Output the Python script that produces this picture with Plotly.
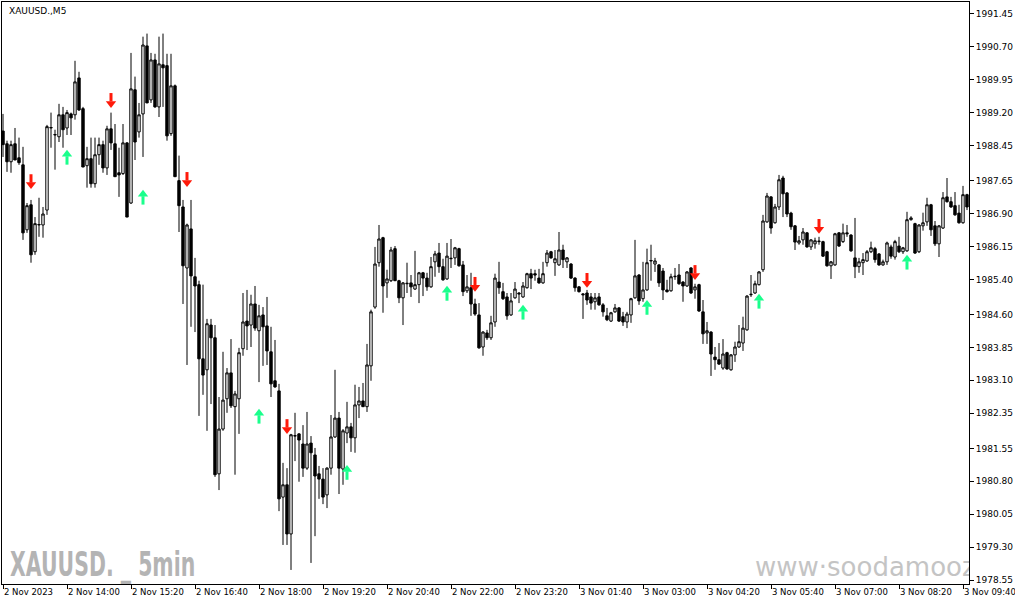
import plotly.graph_objects as go

opens = [
1988.78, 1988.49, 1988.08, 1988.49, 1988.17, 1988.01, 1986.53, 1987.10, 1986.03, 1986.64,
1986.64, 1986.98, 1988.85, 1988.69, 1988.65, 1989.15, 1988.85, 1989.17, 1989.15, 1989.99,
1989.29, 1987.99, 1988.15, 1987.58, 1988.24, 1988.47, 1987.94, 1988.83, 1988.49, 1987.83,
1987.81, 1988.51, 1987.14, 1989.72, 1988.76, 1989.17, 1990.72, 1989.49, 1990.40, 1989.33,
1990.29, 1990.27, 1988.72, 1989.81, 1987.65, 1987.05, 1985.66, 1986.55, 1985.46, 1985.28,
1983.59, 1983.34, 1984.36, 1984.07, 1980.97, 1981.99, 1982.68, 1983.27, 1982.50, 1982.68,
1983.82, 1984.45, 1984.36, 1984.84, 1984.23, 1984.59, 1984.34, 1983.75, 1983.09, 1982.86,
1980.44, 1980.72, 1979.60, 1981.83, 1981.88, 1981.65, 1981.10, 1981.67, 1981.40, 1980.97,
1980.85, 1980.49, 1981.10, 1981.81, 1982.24, 1981.08, 1981.90, 1982.04, 1981.79, 1982.54,
1982.63, 1982.50, 1983.43, 1984.77, 1985.78, 1986.35, 1985.32, 1985.37, 1986.10, 1985.37,
1984.98, 1985.30, 1985.32, 1985.18, 1985.28, 1985.55, 1985.43, 1985.23, 1985.80, 1986.00,
1985.69, 1985.41, 1985.87, 1985.89, 1986.10, 1985.73, 1985.14, 1985.21, 1984.84, 1984.59,
1983.86, 1984.18, 1984.07, 1984.43, 1985.34, 1985.12, 1985.00, 1984.59, 1984.98, 1985.09,
1985.00, 1985.21, 1985.53, 1985.53, 1985.43, 1985.32, 1985.78, 1986.03, 1985.78, 1985.73,
1986.07, 1985.80, 1985.75, 1985.43, 1985.23, 1985.07, 1985.09, 1985.00, 1984.89, 1985.00,
1984.82, 1984.57, 1984.45, 1984.66, 1984.75, 1984.55, 1984.43, 1984.59, 1984.98, 1985.50,
1984.96, 1985.16, 1985.82, 1985.75, 1985.73, 1985.59, 1985.16, 1985.14, 1985.46, 1985.50,
1985.34, 1985.25, 1985.66, 1985.16, 1985.28, 1984.66, 1984.18, 1984.20, 1983.63, 1983.57,
1983.38, 1983.73, 1983.34, 1983.68, 1983.86, 1983.95, 1984.25, 1985.05, 1985.09, 1985.28,
1985.62, 1986.71, 1987.28, 1986.69, 1987.05, 1987.71, 1987.37, 1986.91, 1986.62, 1986.23,
1986.30, 1986.46, 1986.14, 1986.21, 1986.26, 1986.26, 1986.03, 1985.71, 1985.73, 1986.46,
1986.26, 1986.46, 1986.41, 1985.89, 1985.69, 1985.78, 1985.82, 1986.03, 1986.10, 1985.98,
1985.73, 1985.80, 1986.14, 1985.91, 1986.16, 1986.03, 1986.05, 1986.76, 1986.67, 1986.03,
1986.62, 1986.71, 1987.10, 1986.62, 1986.21, 1986.57, 1987.28, 1987.17, 1987.08, 1986.91,
1986.69, 1987.33]

highs = [
1989.17, 1988.56, 1988.56, 1988.85, 1988.63, 1988.42, 1987.14, 1987.21, 1986.82, 1987.26,
1987.05, 1988.92, 1989.20, 1988.81, 1989.40, 1989.33, 1989.26, 1989.20, 1990.38, 1990.13,
1989.33, 1988.42, 1988.63, 1988.63, 1988.63, 1988.56, 1988.90, 1989.20, 1988.94, 1988.40,
1988.94, 1988.53, 1990.56, 1990.02, 1989.42, 1990.93, 1991.00, 1990.56, 1990.54, 1990.93,
1991.00, 1990.54, 1990.54, 1989.84, 1988.22, 1987.21, 1986.67, 1987.21, 1985.89, 1985.37,
1985.28, 1984.50, 1984.50, 1984.36, 1982.72, 1983.75, 1983.38, 1984.04, 1982.86, 1983.84,
1985.09, 1985.16, 1985.05, 1985.25, 1984.82, 1984.77, 1985.00, 1984.32, 1984.02, 1983.02,
1981.22, 1981.10, 1981.88, 1982.36, 1981.90, 1982.08, 1982.38, 1981.83, 1981.56, 1981.15,
1981.10, 1981.12, 1982.31, 1983.34, 1982.38, 1981.99, 1982.61, 1982.13, 1983.00, 1982.95,
1983.04, 1983.93, 1984.71, 1986.14, 1986.64, 1986.37, 1985.62, 1986.14, 1986.16, 1985.39,
1985.34, 1985.78, 1985.50, 1986.05, 1985.57, 1985.57, 1985.55, 1985.91, 1986.05, 1986.23,
1985.87, 1986.23, 1986.32, 1986.14, 1986.12, 1985.82, 1985.50, 1985.55, 1984.96, 1984.86,
1984.22, 1984.25, 1984.57, 1985.53, 1985.80, 1985.32, 1985.09, 1985.09, 1985.34, 1985.11,
1985.34, 1985.55, 1985.64, 1985.62, 1985.64, 1985.80, 1986.07, 1986.05, 1986.07, 1986.48,
1986.19, 1985.91, 1985.77, 1985.45, 1985.25, 1985.09, 1985.16, 1985.09, 1985.09, 1985.09,
1984.86, 1984.75, 1984.66, 1984.84, 1984.77, 1984.66, 1984.66, 1984.98, 1986.30, 1985.52,
1985.80, 1986.10, 1986.19, 1985.89, 1985.75, 1985.66, 1985.39, 1985.53, 1985.66, 1985.75,
1985.36, 1985.59, 1985.68, 1985.30, 1985.30, 1984.93, 1984.43, 1984.22, 1983.86, 1983.95,
1984.04, 1983.75, 1983.70, 1983.98, 1984.36, 1984.55, 1985.04, 1985.50, 1985.37, 1985.59,
1986.87, 1987.37, 1987.30, 1987.12, 1987.78, 1987.76, 1987.39, 1986.94, 1986.64, 1986.39,
1986.57, 1986.48, 1986.32, 1986.35, 1986.37, 1986.28, 1986.05, 1985.82, 1986.46, 1986.48,
1986.67, 1986.64, 1986.43, 1986.80, 1985.89, 1986.00, 1986.07, 1986.26, 1986.14, 1986.00,
1985.85, 1986.26, 1986.19, 1986.30, 1986.37, 1986.14, 1986.94, 1986.84, 1986.69, 1986.66,
1986.92, 1987.26, 1987.12, 1986.73, 1986.64, 1987.39, 1987.71, 1987.28, 1987.39, 1987.10,
1987.53, 1987.35]

lows = [
1988.19, 1987.85, 1987.83, 1988.12, 1988.01, 1986.30, 1986.46, 1985.78, 1985.96, 1986.37,
1986.35, 1986.87, 1988.40, 1987.90, 1988.53, 1988.40, 1988.69, 1988.69, 1989.04, 1989.24,
1987.96, 1987.49, 1987.49, 1987.49, 1988.01, 1987.83, 1987.78, 1988.35, 1987.74, 1987.28,
1987.78, 1986.82, 1987.12, 1988.12, 1988.63, 1988.19, 1989.42, 1989.42, 1989.31, 1989.10,
1989.33, 1988.56, 1988.67, 1987.74, 1986.48, 1984.84, 1983.45, 1984.32, 1984.20, 1982.29,
1982.77, 1981.95, 1982.56, 1980.90, 1980.60, 1981.95, 1982.36, 1982.47, 1980.95, 1981.88,
1983.66, 1983.79, 1983.86, 1984.23, 1983.06, 1983.43, 1983.45, 1982.72, 1982.93, 1980.12,
1979.35, 1979.35, 1978.78, 1981.26, 1980.79, 1980.90, 1981.06, 1978.94, 1979.55, 1980.40,
1980.28, 1980.19, 1980.95, 1981.79, 1980.51, 1980.72, 1981.67, 1981.47, 1981.45, 1982.24,
1982.50, 1982.38, 1983.09, 1984.73, 1985.69, 1984.64, 1984.98, 1985.34, 1985.37, 1984.86,
1984.36, 1985.09, 1985.00, 1985.16, 1984.86, 1985.02, 1985.14, 1985.21, 1985.46, 1985.55,
1985.37, 1985.39, 1985.66, 1985.73, 1985.69, 1985.02, 1985.09, 1984.57, 1984.57, 1983.82,
1983.66, 1984.02, 1984.02, 1984.32, 1985.07, 1984.93, 1984.48, 1984.57, 1984.96, 1984.86,
1984.98, 1985.19, 1985.18, 1985.37, 1985.30, 1985.30, 1985.69, 1985.87, 1985.48, 1985.71,
1985.66, 1985.66, 1985.41, 1985.12, 1985.10, 1984.50, 1984.82, 1984.71, 1984.71, 1984.80,
1984.55, 1984.45, 1984.43, 1984.64, 1984.43, 1984.34, 1984.29, 1984.41, 1984.96, 1984.82,
1984.89, 1985.14, 1985.37, 1985.57, 1985.23, 1984.93, 1985.10, 1985.12, 1985.39, 1985.28,
1984.89, 1985.23, 1985.07, 1984.96, 1984.66, 1983.93, 1983.93, 1983.20, 1983.34, 1983.45,
1983.34, 1983.34, 1983.32, 1983.52, 1983.84, 1983.77, 1984.23, 1985.00, 1985.07, 1985.26,
1985.57, 1986.69, 1986.44, 1986.67, 1986.98, 1986.82, 1986.82, 1986.53, 1986.07, 1986.19,
1986.19, 1986.12, 1986.07, 1986.10, 1986.19, 1985.91, 1985.69, 1985.41, 1985.71, 1986.14,
1986.23, 1986.37, 1986.03, 1985.43, 1985.55, 1985.50, 1985.80, 1986.00, 1985.78, 1985.71,
1985.71, 1985.73, 1985.87, 1985.85, 1986.00, 1985.98, 1986.03, 1986.74, 1985.98, 1986.00,
1986.51, 1986.62, 1986.39, 1986.16, 1985.91, 1986.55, 1987.15, 1987.03, 1986.85, 1986.67,
1986.67, 1986.98]

closes = [
1988.47, 1988.08, 1988.47, 1988.12, 1988.06, 1986.46, 1987.08, 1985.96, 1986.67, 1986.65,
1986.89, 1988.88, 1988.86, 1988.70, 1989.15, 1988.81, 1989.20, 1989.08, 1989.90, 1989.26,
1987.96, 1988.15, 1987.58, 1988.24, 1988.47, 1987.94, 1988.83, 1988.51, 1987.74, 1987.78,
1988.51, 1986.82, 1989.74, 1988.53, 1989.15, 1990.74, 1989.42, 1990.40, 1989.33, 1990.31,
1990.22, 1988.67, 1989.81, 1987.74, 1987.08, 1985.71, 1986.64, 1985.48, 1985.25, 1983.59,
1983.22, 1984.39, 1984.07, 1980.95, 1981.99, 1982.65, 1983.27, 1982.52, 1982.79, 1983.73,
1984.43, 1984.34, 1984.84, 1984.29, 1984.57, 1984.32, 1983.77, 1983.02, 1982.95, 1980.40,
1980.72, 1979.60, 1981.86, 1981.84, 1981.74, 1981.10, 1981.65, 1981.45, 1980.92, 1980.85,
1980.44, 1981.10, 1981.81, 1982.24, 1981.10, 1981.95, 1982.04, 1981.79, 1982.54, 1982.63,
1982.50, 1983.45, 1984.66, 1985.75, 1986.32, 1985.25, 1985.41, 1986.07, 1985.37, 1984.98,
1985.32, 1985.31, 1985.23, 1985.28, 1985.55, 1985.43, 1985.23, 1985.69, 1985.98, 1985.69,
1985.39, 1985.93, 1985.88, 1986.12, 1985.71, 1985.12, 1985.23, 1984.84, 1984.61, 1983.84,
1984.20, 1984.07, 1984.41, 1985.43, 1985.21, 1984.96, 1984.57, 1984.91, 1985.18, 1985.07,
1985.25, 1985.53, 1985.43, 1985.50, 1985.32, 1985.53, 1986.00, 1985.89, 1985.87, 1986.07,
1985.85, 1985.89, 1985.43, 1985.21, 1985.12, 1985.05, 1984.93, 1984.86, 1984.98, 1984.82,
1984.66, 1984.48, 1984.64, 1984.75, 1984.45, 1984.43, 1984.61, 1984.96, 1985.48, 1984.91,
1985.16, 1985.78, 1985.83, 1985.82, 1985.32, 1985.16, 1985.12, 1985.46, 1985.47, 1985.30,
1985.25, 1985.57, 1985.09, 1985.23, 1984.68, 1984.16, 1984.23, 1983.70, 1983.57, 1983.47,
1983.70, 1983.36, 1983.68, 1983.86, 1983.98, 1984.29, 1985.02, 1985.06, 1985.30, 1985.57,
1986.73, 1987.30, 1986.57, 1987.05, 1987.67, 1987.35, 1986.89, 1986.60, 1986.25, 1986.28,
1986.48, 1986.14, 1986.30, 1986.28, 1986.27, 1985.93, 1985.71, 1985.80, 1986.44, 1986.16,
1986.46, 1986.44, 1986.05, 1985.69, 1985.80, 1985.85, 1986.03, 1986.12, 1985.85, 1985.73,
1985.80, 1986.23, 1985.93, 1986.26, 1986.03, 1986.12, 1986.76, 1986.80, 1986.00, 1986.64,
1986.69, 1987.10, 1986.53, 1986.21, 1986.62, 1987.26, 1987.17, 1987.05, 1986.87, 1986.69,
1987.33, 1987.05]

sell_bars = [7, 27, 46, 71, 118, 146, 173, 204]
sell_prices = [1987.62, 1989.47, 1987.67, 1982.04, 1985.28, 1985.37, 1985.55, 1986.60]
buy_bars = [16, 35, 64, 86, 111, 130, 161, 189, 226]
buy_prices = [1988.19, 1987.28, 1982.29, 1981.01, 1985.09, 1984.66, 1984.77, 1984.91, 1985.80]

price_ticks = [1991.45, 1990.70, 1989.95, 1989.20, 1988.45, 1987.65, 1986.90, 1986.15,
               1985.40, 1984.60, 1983.85, 1983.10, 1982.35, 1981.55, 1980.80, 1980.05,
               1979.30, 1978.55]
time_tick_bars = [0, 16, 32, 48, 64, 80, 96, 112, 128, 144, 160, 176, 192, 208, 224, 240]
time_tick_labels = ["2 Nov 2023", "2 Nov 14:00", "2 Nov 15:20", "2 Nov 16:40", "2 Nov 18:00",
                    "2 Nov 19:20", "2 Nov 20:40", "2 Nov 22:00", "2 Nov 23:20", "3 Nov 01:40",
                    "3 Nov 03:00", "3 Nov 04:20", "3 Nov 05:40", "3 Nov 07:00", "3 Nov 08:20",
                    "3 Nov 09:40"]

bars = list(range(len(closes)))

RED = "#ff1a0a"
GREEN = "#1aff8c"
HEAD = 0.06   # arrow head offset from signal level (price units)
SHAFT = 0.08  # arrow shaft offset from signal level (price units)

fig = go.Figure()
fig.add_trace(go.Candlestick(
    x=bars, open=opens, high=highs, low=lows, close=closes,
    increasing=dict(line=dict(color="black", width=1), fillcolor="white"),
    decreasing=dict(line=dict(color="black", width=1), fillcolor="black"),
    whiskerwidth=0, showlegend=False, hoverinfo="skip"))

# sell arrows (shaft + head)
fig.add_trace(go.Scatter(
    x=sell_bars, y=[p + SHAFT for p in sell_prices], mode="markers",
    marker=dict(symbol="line-ns", size=6, line=dict(width=3, color=RED)),
    showlegend=False, hoverinfo="skip"))
fig.add_trace(go.Scatter(
    x=sell_bars, y=[p - HEAD for p in sell_prices], mode="markers",
    marker=dict(symbol="triangle-down", size=9, color=RED, line=dict(width=0)),
    showlegend=False, hoverinfo="skip"))
# buy arrows (shaft + head)
fig.add_trace(go.Scatter(
    x=buy_bars, y=[p - SHAFT for p in buy_prices], mode="markers",
    marker=dict(symbol="line-ns", size=6, line=dict(width=3, color=GREEN)),
    showlegend=False, hoverinfo="skip"))
fig.add_trace(go.Scatter(
    x=buy_bars, y=[p + HEAD for p in buy_prices], mode="markers",
    marker=dict(symbol="triangle-up", size=9, color=GREEN, line=dict(width=0)),
    showlegend=False, hoverinfo="skip"))

# watermark clipped by the price scale
fig.add_trace(go.Scatter(
    x=[188], y=[1978.79], mode="text", text=["www·soodamooz.com"],
    textfont=dict(family="DejaVu Sans", size=26, color="#c4c4c4"),
    textposition="middle right", cliponaxis=True, showlegend=False, hoverinfo="skip"))

fig.add_annotation(text="XAUUSD. _ 5min", xref="paper", yref="paper", x=0.006, y=-0.004,
                   xanchor="left", yanchor="bottom", showarrow=False,
                   font=dict(family="DejaVu Sans", size=33, color="#b4b4b4", weight="bold"))
fig.add_annotation(text="XAUUSD.,M5", xref="paper", yref="paper", x=0.005, y=0.985,
                   xanchor="left", yanchor="middle", showarrow=False,
                   font=dict(family="DejaVu Sans", size=9, color="black"))

fig.update_layout(
    width=1015, height=605,
    margin=dict(l=2, r=46, t=2, b=21, autoexpand=False),
    paper_bgcolor="white", plot_bgcolor="white",
    boxgap=0.15,
    xaxis=dict(range=[-0.25, 241.5], tickmode="array", tickvals=time_tick_bars,
               ticktext=time_tick_labels, ticks="outside", ticklen=4, tickcolor="black",
               ticklabelposition="outside right", ticklabeloverflow="allow",
               tickangle=0, automargin=False,
               showline=True, linecolor="black", linewidth=1, mirror=True,
               showgrid=False, zeroline=False, rangeslider=dict(visible=False),
               tickfont=dict(family="DejaVu Sans", size=8.5, color="black")),
    yaxis=dict(range=[1978.46, 1991.72], side="right", tickmode="array",
               tickvals=price_ticks, ticktext=[f"{v:.2f}" for v in price_ticks],
               ticks="outside", ticklen=4, tickcolor="black", automargin=False,
               showline=True, linecolor="black", linewidth=1, mirror=True,
               showgrid=False, zeroline=False,
               tickfont=dict(family="DejaVu Sans", size=9, color="black")),
)

post_js = """
document.body.style.margin = '0';
document.body.style.padding = '0';
var narrow = function() {
  document.querySelectorAll('.annotation-text').forEach(function(t) {
    if (t.textContent.indexOf('5min') >= 0) {
      t.removeAttribute('transform');
      var bb = t.getBBox();
      var x0 = bb.x;
      t.setAttribute('transform', 'translate(' + x0 + ',0) scale(0.62,1) translate(' + (-x0) + ',0)');
    }
  });
};
narrow();
var gd = document.getElementsByClassName('plotly-graph-div')[0];
if (gd && gd.on) { gd.on('plotly_afterplot', narrow); }
"""

fig.write_html("out.html", post_script=post_js, config={"displayModeBar": False})
